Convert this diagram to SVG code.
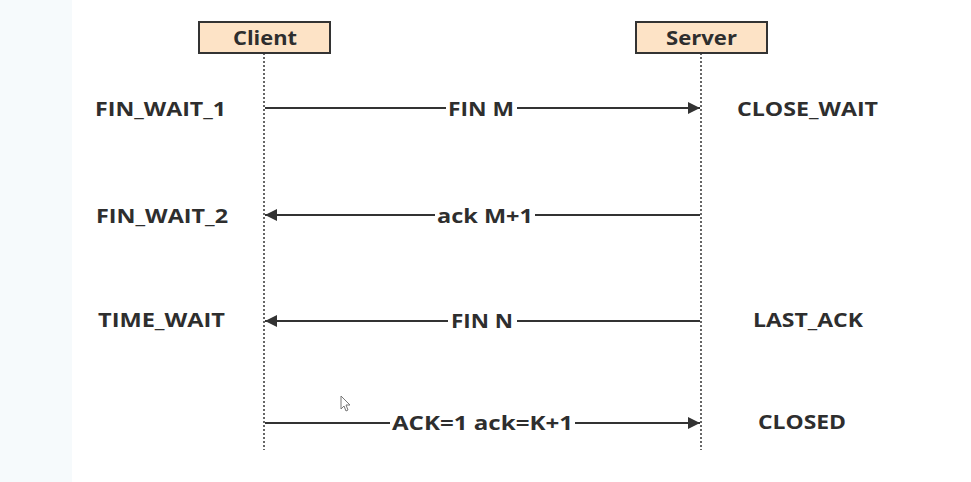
<svg xmlns="http://www.w3.org/2000/svg" width="971" height="482" viewBox="0 0 971 482">
<style>
text{font-family:"Open Sans","Liberation Sans",sans-serif;font-weight:bold;fill:#2e2e2e;font-size:20px}
.box{fill:#fde3c6;stroke:#333;stroke-width:2}
.life{stroke:#666;stroke-width:2;stroke-dasharray:2 2}
.arrow{stroke:#333;stroke-width:2;fill:none}
.lbg{fill:#fff}
</style>
<defs>
<marker id="ah" viewBox="0 0 10 10" refX="10" refY="5" markerWidth="8" markerHeight="6" orient="auto" markerUnits="strokeWidth">
<path d="M0,0 L10,5 L0,10 z" fill="#333"/>
</marker>
</defs>
<rect width="971" height="482" fill="#fff"/>
<rect x="0" y="0" width="72" height="482" fill="#f6fafc"/>
<g id="client">
<line class="life" x1="264" y1="53" x2="264" y2="450"/>
<rect class="box" x="199" y="22" width="131" height="31"/>
<text x="233" y="45" textLength="64" lengthAdjust="spacingAndGlyphs">Client</text>
</g>
<g id="server">
<line class="life" x1="701" y1="53" x2="701" y2="450"/>
<rect class="box" x="636" y="22" width="131" height="31"/>
<text x="666" y="45" textLength="71" lengthAdjust="spacingAndGlyphs">Server</text>
</g>
<g id="states">
<text x="95" y="116" textLength="131" lengthAdjust="spacingAndGlyphs">FIN_WAIT_1</text>
<text x="96" y="223" textLength="132" lengthAdjust="spacingAndGlyphs">FIN_WAIT_2</text>
<text x="98" y="327" textLength="127" lengthAdjust="spacingAndGlyphs">TIME_WAIT</text>
<text x="737" y="116" textLength="141" lengthAdjust="spacingAndGlyphs">CLOSE_WAIT</text>
<text x="753" y="327" textLength="110" lengthAdjust="spacingAndGlyphs">LAST_ACK</text>
<text x="758" y="429" textLength="88" lengthAdjust="spacingAndGlyphs">CLOSED</text>
</g>
<g id="connectors">
<line class="arrow" x1="265" y1="108" x2="700" y2="108" marker-end="url(#ah)"/>
<line class="arrow" x1="700" y1="215" x2="265" y2="215" marker-end="url(#ah)"/>
<line class="arrow" x1="700" y1="321" x2="265" y2="321" marker-end="url(#ah)"/>
<line class="arrow" x1="265" y1="423" x2="700" y2="423" marker-end="url(#ah)"/>
<rect class="lbg" x="446" y="97" width="71" height="22"/>
<text x="448" y="116" textLength="66" lengthAdjust="spacingAndGlyphs">FIN M</text>
<rect class="lbg" x="435" y="204" width="100" height="22"/>
<text x="437" y="223" textLength="96" lengthAdjust="spacingAndGlyphs">ack M+1</text>
<rect class="lbg" x="448" y="310" width="69" height="22"/>
<text x="451" y="328" textLength="62" lengthAdjust="spacingAndGlyphs">FIN N</text>
<rect class="lbg" x="390" y="412" width="185" height="22"/>
<text x="392" y="430" textLength="181" lengthAdjust="spacingAndGlyphs">ACK=1 ack=K+1</text>
</g>
<path d="M341,396 L341,409 L344,406 L346,411 L348,410 L346,405 L350,405 Z" fill="#fff" stroke="#777" stroke-width="1"/>
</svg>
